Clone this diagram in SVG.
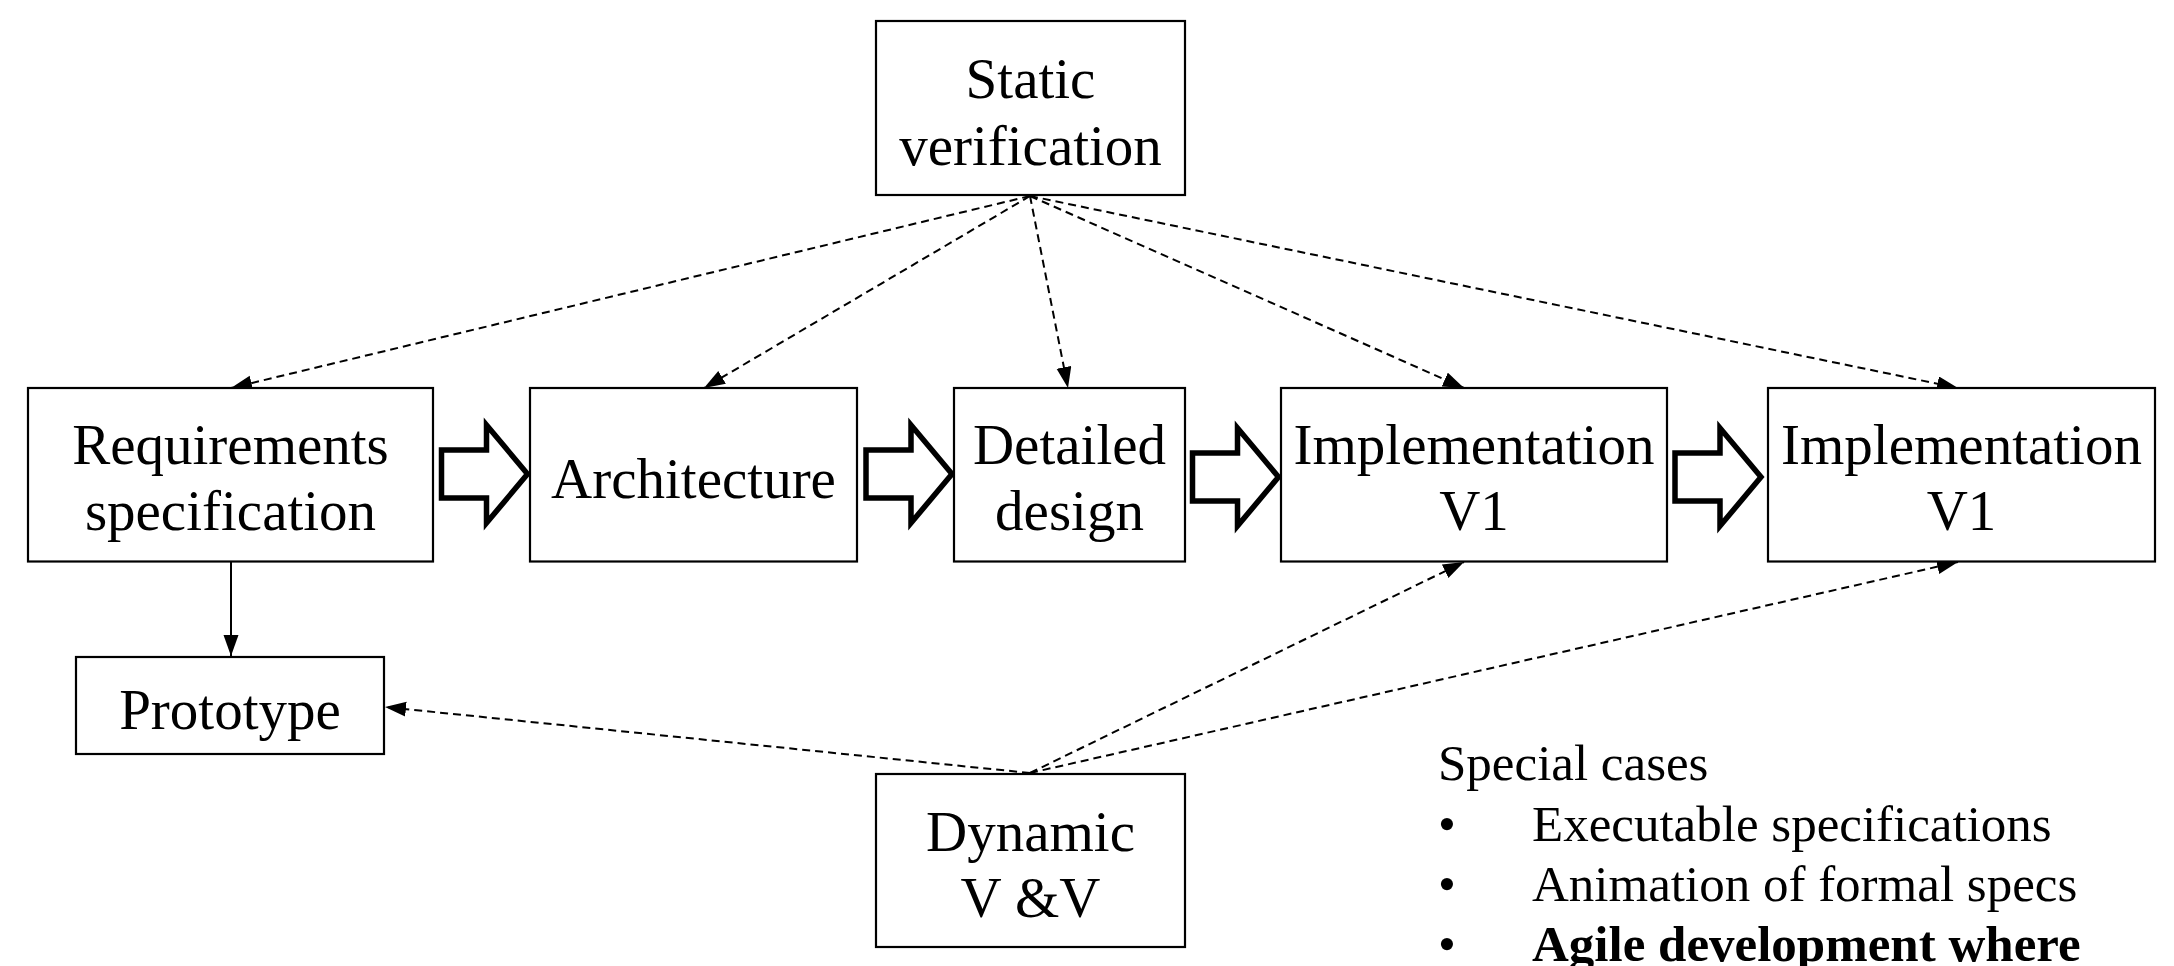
<svg xmlns="http://www.w3.org/2000/svg" width="2174" height="966" viewBox="0 0 2174 966">
  <style>
    .box { fill: #ffffff; stroke: #000000; stroke-width: 2.2; }
    .lbl { font-family: "Liberation Serif", "Times New Roman", serif; font-size: 57px; fill: #000000; text-anchor: middle; }
    .list { font-family: "Liberation Serif", "Times New Roman", serif; font-size: 51px; fill: #000000; }
    .bold { font-weight: bold; }
    .dash { fill: none; stroke: #000000; stroke-width: 2; stroke-dasharray: 8 5; }
    .solid { fill: none; stroke: #000000; stroke-width: 2; }
    .blk { fill: #ffffff; stroke: #000000; stroke-width: 5.5; stroke-linejoin: miter; stroke-miterlimit: 10; }
  </style>
  <defs>
    <marker id="ah" markerUnits="userSpaceOnUse" markerWidth="22" markerHeight="16" refX="21" refY="7.5" orient="auto">
      <path d="M0,0 L21,7.5 L0,15 z" fill="#000000"/>
    </marker>
    <polygon id="bigarrow" points="0,-24 45,-24 45,-49 86,0 45,49 45,24 0,24"/>
  </defs>
  <rect x="0" y="0" width="2174" height="966" fill="#ffffff"/>

  <g id="connectors">
    <path class="dash" d="M1030,196 L231,388" marker-end="url(#ah)"/>
    <path class="dash" d="M1030,196 L704,388" marker-end="url(#ah)"/>
    <path class="dash" d="M1030,196 L1068,388" marker-end="url(#ah)"/>
    <path class="dash" d="M1030,196 L1464,388" marker-end="url(#ah)"/>
    <path class="dash" d="M1030,196 L1958,388" marker-end="url(#ah)"/>
    <path class="dash" d="M1030,773 L385,707" marker-end="url(#ah)"/>
    <path class="dash" d="M1030,773 L1464,562" marker-end="url(#ah)"/>
    <path class="dash" d="M1030,773 L1958,562" marker-end="url(#ah)"/>
    <path class="solid" d="M231,562 L231,656" marker-end="url(#ah)"/>
    <use href="#bigarrow" class="blk" transform="translate(441.5,474)"/>
    <use href="#bigarrow" class="blk" transform="translate(866,474)"/>
    <use href="#bigarrow" class="blk" transform="translate(1192.5,477)"/>
    <use href="#bigarrow" class="blk" transform="translate(1675,477)"/>
  </g>

  <g id="static-verification">
    <rect class="box" x="876" y="21" width="309" height="174"/>
    <text class="lbl" x="1030.5" y="98">Static</text>
    <text class="lbl" x="1030.5" y="165">verification</text>
  </g>

  <g id="requirements-specification">
    <rect class="box" x="28" y="388" width="405" height="173.5"/>
    <text class="lbl" x="230.5" y="464">Requirements</text>
    <text class="lbl" x="230.5" y="530">specification</text>
  </g>

  <g id="architecture">
    <rect class="box" x="530" y="388" width="327" height="173.5"/>
    <text class="lbl" x="693.5" y="498">Architecture</text>
  </g>

  <g id="detailed-design">
    <rect class="box" x="954" y="388" width="231" height="173.5"/>
    <text class="lbl" x="1069.5" y="464">Detailed</text>
    <text class="lbl" x="1069.5" y="530">design</text>
  </g>

  <g id="implementation-v1-a">
    <rect class="box" x="1281" y="388" width="386" height="173.5"/>
    <text class="lbl" x="1474" y="464">Implementation</text>
    <text class="lbl" x="1474" y="530">V1</text>
  </g>

  <g id="implementation-v1-b">
    <rect class="box" x="1768" y="388" width="387" height="173.5"/>
    <text class="lbl" x="1961.5" y="464">Implementation</text>
    <text class="lbl" x="1961.5" y="530">V1</text>
  </g>

  <g id="prototype">
    <rect class="box" x="76" y="657" width="308" height="97"/>
    <text class="lbl" x="230" y="729">Prototype</text>
  </g>

  <g id="dynamic-vv">
    <rect class="box" x="876" y="774" width="309" height="173"/>
    <text class="lbl" x="1030.5" y="851">Dynamic</text>
    <text class="lbl" x="1030.5" y="917">V &amp;V</text>
  </g>

  <g id="special-cases">
    <text class="list" x="1438" y="780">Special cases</text>
    <text class="list" x="1438" y="841">•</text>
    <text class="list" x="1532" y="841">Executable specifications</text>
    <text class="list" x="1438" y="901">•</text>
    <text class="list" x="1532" y="901">Animation of formal specs</text>
    <text class="list" x="1438" y="961">•</text>
    <text class="list bold" x="1532" y="961">Agile development where</text>
  </g>
</svg>
